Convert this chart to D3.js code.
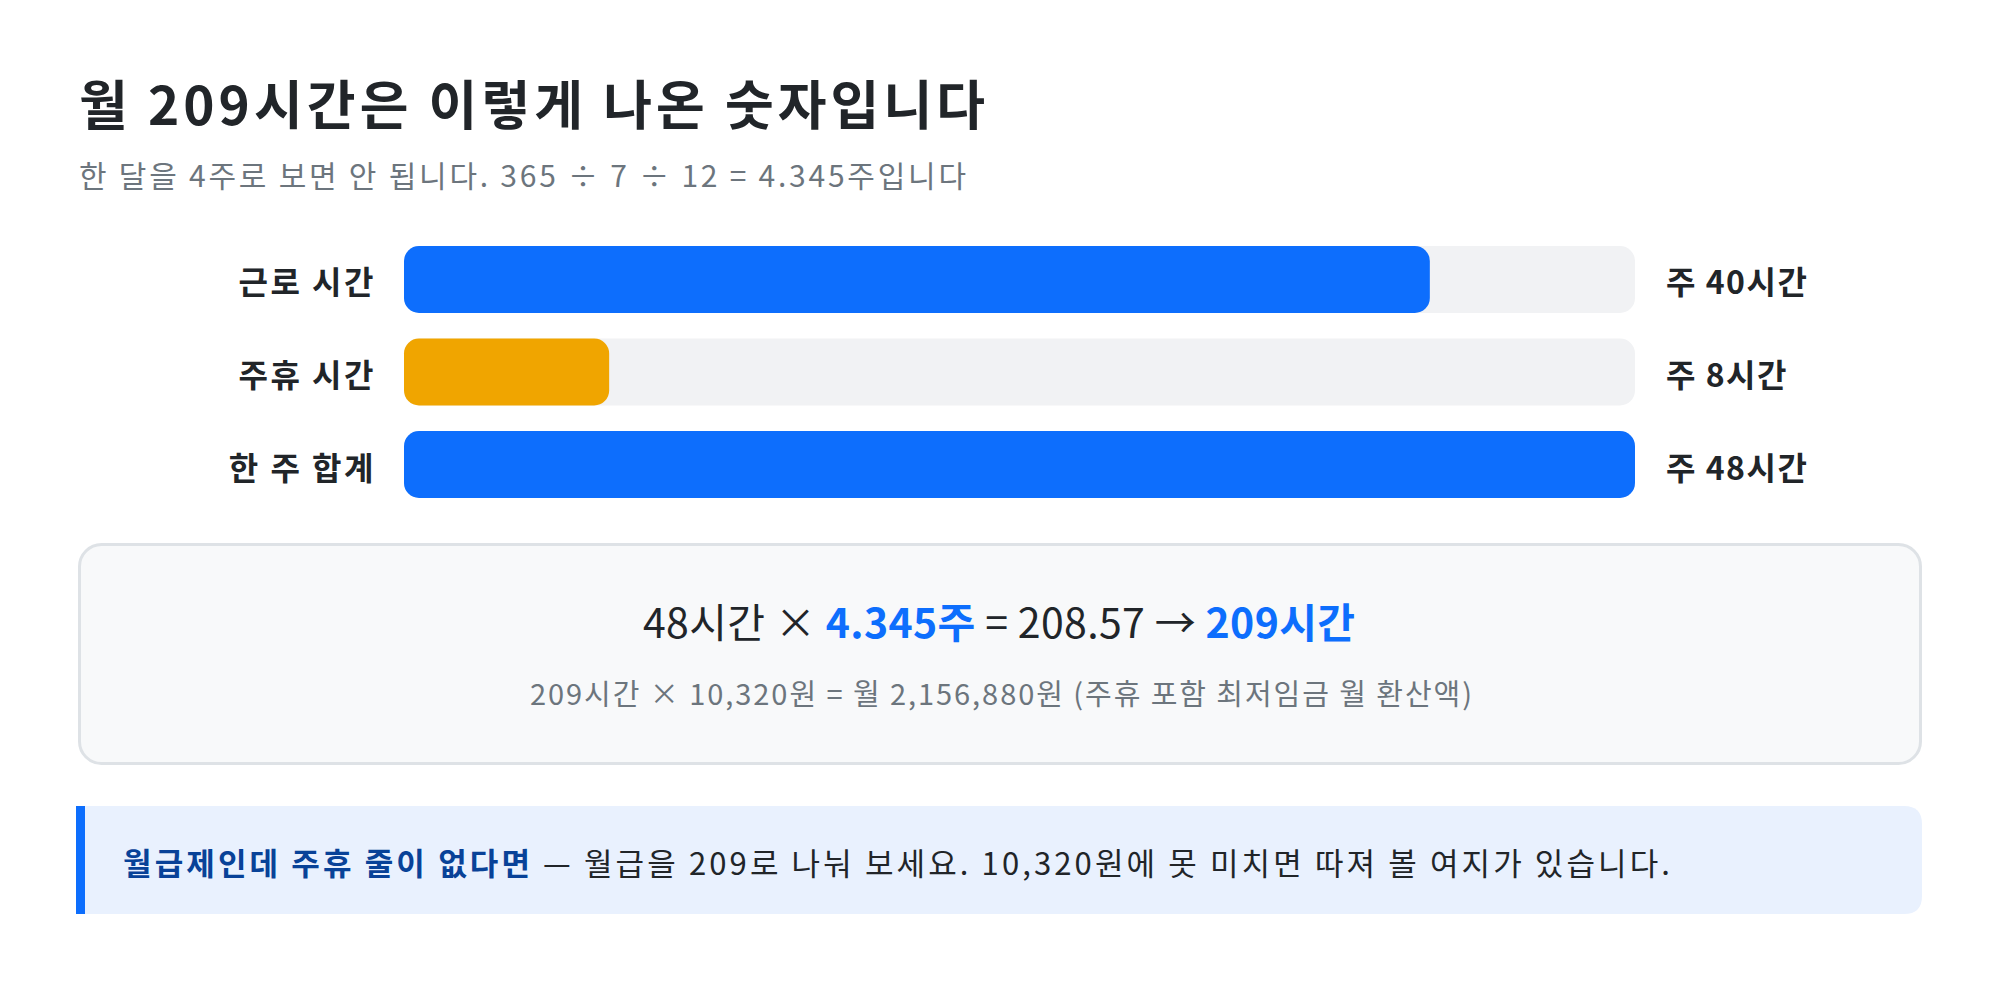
<!DOCTYPE html>
<html>
<head>
<meta charset="utf-8">
<script src="https://cdn.jsdelivr.net/npm/d3@7"></script>
<style>
  html, body { margin: 0; padding: 0; background: #ffffff; }
  svg { display: block; }
  text { font-family: "Noto Sans CJK KR", "Noto Sans", sans-serif; }
</style>
</head>
<body>
<svg id="chart" width="2000" height="982"></svg>
<script>
// ---- data ----
const titleText = "월 209시간은 이렇게 나온 숫자입니다";
const subtitleText = "한 달을 4주로 보면 안 됩니다. 365 ÷ 7 ÷ 12 = 4.345주입니다";
const categories = ["근로 시간", "주휴 시간", "한 주 합계"];
const hours = [40, 8, 48];
const valueLabels = ["주 40시간", "주 8시간", "주 48시간"];
const barColors = ["#0d6efd", "#f0a500", "#0d6efd"];
const maxHours = 48;
const formulaParts = [
  { t: "48시간 × ", hl: false },
  { t: "4.345주", hl: true },
  { t: " = 208.57 → ", hl: false },
  { t: "209시간", hl: true }
];
const formulaSub = "209시간 × 10,320원 = 월 2,156,880원 (주휴 포함 최저임금 월 환산액)";
const noteBold = "월급제인데 주휴 줄이 없다면";
const noteRest = " — 월급을 209로 나눠 보세요. 10,320원에 못 미치면 따져 볼 여지가 있습니다.";

// ---- drawing ----
const svg = d3.select("#chart");
const dark = "#212529", gray = "#6c757d", blue = "#0d6efd";

svg.append("text").attr("x", 79).attr("y", 125)
  .attr("font-size", 53).attr("font-weight", 700).attr("fill", dark)
  .attr("textLength", 906).attr("lengthAdjust", "spacing")
  .text(titleText);

svg.append("text").attr("x", 79).attr("y", 187)
  .attr("font-size", 30).attr("fill", gray)
  .attr("textLength", 887).attr("lengthAdjust", "spacing")
  .text(subtitleText);

const x = d3.scaleLinear().domain([0, maxHours]).range([404, 1635]);
const y = d3.scaleBand().domain(categories).range([246, 498]).paddingInner(0.276).paddingOuter(0);

const rows = svg.append("g").selectAll("g").data(categories).join("g");

rows.append("rect")
  .attr("x", x(0)).attr("y", d => y(d))
  .attr("width", x(maxHours) - x(0)).attr("height", y.bandwidth())
  .attr("rx", 15).attr("fill", "#f1f2f4");

rows.append("rect")
  .attr("x", x(0)).attr("y", d => y(d))
  .attr("width", (d, i) => x(hours[i]) - x(0)).attr("height", y.bandwidth())
  .attr("rx", 15).attr("fill", (d, i) => barColors[i]);

rows.append("text")
  .attr("x", x(0) - 28).attr("y", d => y(d) + y.bandwidth() / 2 + 1)
  .attr("text-anchor", "end").attr("dominant-baseline", "central")
  .attr("font-size", 32).attr("font-weight", 700).attr("fill", dark)
  .attr("letter-spacing", 2.5)
  .text(d => d);

rows.append("text")
  .attr("x", x(maxHours) + 31).attr("y", d => y(d) + y.bandwidth() / 2 + 1)
  .attr("dominant-baseline", "central")
  .attr("font-size", 32).attr("font-weight", 700).attr("fill", dark)
  .attr("letter-spacing", 1.5)
  .text((d, i) => valueLabels[i]);

// formula box
svg.append("rect").attr("x", 79.5).attr("y", 544.5).attr("width", 1841).attr("height", 219)
  .attr("rx", 22).attr("fill", "#f8f9fa").attr("stroke", "#dee2e6").attr("stroke-width", 3);

const f = svg.append("text").attr("x", 643).attr("y", 638)
  .attr("font-size", 41).attr("fill", dark)
  .attr("textLength", 712).attr("lengthAdjust", "spacing");
f.selectAll("tspan").data(formulaParts).join("tspan")
  .attr("fill", d => d.hl ? blue : dark)
  .attr("font-weight", d => d.hl ? 700 : 400)
  .text(d => d.t);

svg.append("text").attr("x", 530).attr("y", 705)
  .attr("font-size", 29).attr("fill", gray)
  .attr("textLength", 942).attr("lengthAdjust", "spacing")
  .text(formulaSub);

// callout
const cx0 = 76, cx1 = 1922, cy0 = 806, cy1 = 914, r = 18;
svg.append("path")
  .attr("d", `M${cx0},${cy0} H${cx1 - r} Q${cx1},${cy0} ${cx1},${cy0 + r} V${cy1 - r} Q${cx1},${cy1} ${cx1 - r},${cy1} H${cx0} Z`)
  .attr("fill", "#e9f1fe");
svg.append("rect").attr("x", cx0).attr("y", cy0).attr("width", 9).attr("height", cy1 - cy0).attr("fill", blue);

const n = svg.append("text").attr("x", 123).attr("y", 861)
  .attr("dominant-baseline", "central")
  .attr("font-size", 31).attr("fill", dark)
  .attr("textLength", 1547).attr("lengthAdjust", "spacing");
n.append("tspan").attr("font-weight", 700).attr("fill", "#084298").text(noteBold);
n.append("tspan").text(noteRest);
</script>
</body>
</html>
